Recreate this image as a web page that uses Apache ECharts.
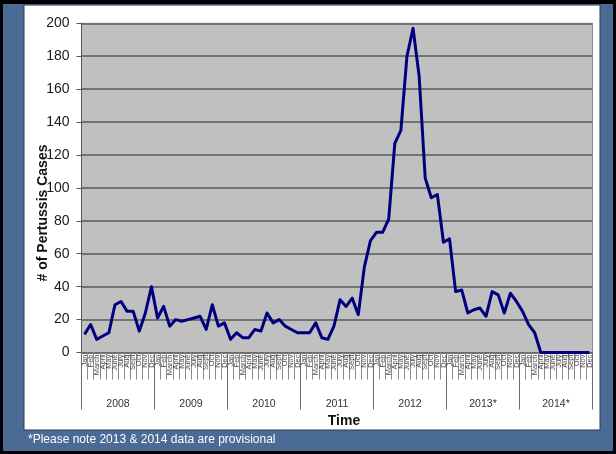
<!DOCTYPE html>
<html>
<head>
<meta charset="utf-8">
<style>
  html, body { margin: 0; padding: 0; background: #000; }
  #chart { width: 616px; height: 454px; }
</style>
<script src="https://cdn.jsdelivr.net/npm/echarts@6/dist/echarts.min.js"></script>
</head>
<body>
<div id="chart"></div>
<script>
// Monthly pertussis case counts, Jan 2008 – Dec 2014
const monthNames = ['Jan', 'Feb', 'March', 'April', 'May', 'June', 'July', 'Aug', 'Sept', 'Oct', 'Nov', 'Dec'];
const years = ['2008', '2009', '2010', '2011', '2012', '2013*', '2014*'];

const cases2008 = [11, 17, 8, 10, 12, 29, 31, 25, 25, 13, 24, 40];
const cases2009 = [21, 28, 16, 20, 19, 20, 21, 22, 14, 29, 16, 18];
const cases2010 = [8, 12, 9, 9, 14, 13, 24, 18, 20, 16, 14, 12];
const cases2011 = [12, 12, 18, 9, 8, 16, 32, 28, 33, 23, 52, 68];
const cases2012 = [73, 73, 81, 127, 135, 180, 197, 168, 106, 94, 96, 67];
const cases2013 = [69, 37, 38, 24, 26, 27, 22, 37, 35, 24, 36, 31];
const cases2014 = [25, 17, 12, 0, 0, 0, 0, 0, 0, 0, 0, 0];

const yTicks = { min: 0, max: 200, interval: 20 };
const yTitle = '# of Pertussis Cases';
const xTitle = 'Time';
const footnote = '*Please note 2013 & 2014 data are provisional';

const yearlySeries = [cases2008, cases2009, cases2010, cases2011, cases2012, cases2013, cases2014];
const months = [];
const cases = [];
yearlySeries.forEach(function (yr) {
  yr.forEach(function (v, i) {
    months.push(monthNames[i]);
    cases.push(v);
  });
});

const FONT = 'Liberation Sans, Arial, Helvetica, sans-serif';
const chart = echarts.init(document.getElementById('chart'), null, { renderer: 'canvas' });

chart.setOption({
  animation: false,
  backgroundColor: '#000000',
  textStyle: { fontFamily: FONT },
  graphic: [
    // slide backdrop: blue frame and white chart panel
    { type: 'rect', z: -10, silent: true,
      shape: { x: 3, y: 4, width: 610, height: 447 },
      style: { fill: '#4b6b97' } },
    { type: 'rect', z: -9, silent: true,
      shape: { x: 24, y: 5, width: 576, height: 425 },
      style: { fill: '#ffffff', stroke: '#2a3a50', lineWidth: 1 } },
    // vertical axis title
    { type: 'text', z: 5, silent: true,
      x: 43.5, y: 213, rotation: Math.PI / 2,
      style: { text: yTitle, fill: '#111111', font: 'bold 14px ' + FONT,
               align: 'center', verticalAlign: 'middle' } },
    { type: 'text', z: 5, silent: true,
      left: 28, top: 434,
      style: { text: footnote, fill: '#ffffff', font: '12px ' + FONT } }
  ],
  grid: {
    left: 81.5, right: 23.5, top: 23.3, bottom: 101.5,
    show: true, backgroundColor: '#c0c0c0',
    borderColor: '#8a8a8a', borderWidth: 1
  },
  xAxis: [
    {
      type: 'category',
      data: months,
      position: 'bottom',
      boundaryGap: true,
      axisLine: { show: true, lineStyle: { color: '#6a6a6a', width: 1 } },
      axisTick: { show: true, interval: 0, length: 27, lineStyle: { color: '#8c8c8c', width: 1 } },
      axisLabel: {
        interval: 0, rotate: 90, fontSize: 7.5, margin: 2,
        color: '#4a4a4a', fontFamily: FONT
      },
      splitLine: { show: false }
    },
    {
      type: 'category',
      data: years,
      position: 'bottom',
      boundaryGap: true,
      axisLine: { show: false },
      axisTick: { show: true, interval: 0, length: 57, lineStyle: { color: '#6a6a6a', width: 1 } },
      axisLabel: { interval: 0, fontSize: 10.5, margin: 46, color: '#333333', fontFamily: FONT },
      splitLine: { show: false },
      name: xTitle,
      nameLocation: 'middle',
      nameGap: 61,
      nameTextStyle: { fontSize: 14, fontWeight: 'bold', color: '#111111', fontFamily: FONT, padding: [0, 0, 0, 14] }
    }
  ],
  yAxis: {
    type: 'value',
    min: yTicks.min, max: yTicks.max, interval: yTicks.interval,
    axisLine: { show: true, lineStyle: { color: '#555555', width: 1 } },
    axisTick: { show: true, length: 5, lineStyle: { color: '#555555' } },
    axisLabel: { fontSize: 14, color: '#1a1a1a', margin: 12, fontFamily: FONT },
    splitLine: { show: true, lineStyle: { color: '#737373', width: 2 } }
  },
  series: [
    {
      type: 'line',
      data: cases,
      xAxisIndex: 0,
      showSymbol: false,
      smooth: false,
      lineStyle: { color: '#00007f', width: 3, join: 'round' },
      z: 3
    }
  ]
});
</script>
</body>
</html>
